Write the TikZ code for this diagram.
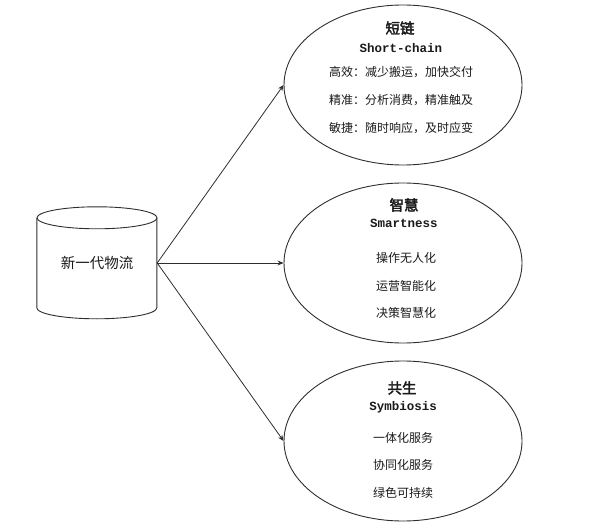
\documentclass[tikz,border=0pt]{standalone}
\usepackage{fontspec}
\usetikzlibrary{shapes.geometric,arrows.meta}
\newfontfamily\cjk[AutoFakeBold=2.5]{Noto Sans CJK SC}
\newfontfamily\monob{Liberation Mono}
\definecolor{linec}{HTML}{2E2E2E}
\definecolor{txt}{HTML}{1A1A1A}
\begin{document}
\begin{tikzpicture}[x=1pt,y=-1pt,
  bubble/.style={ellipse, draw=linec, line width=0.9pt, minimum width=238pt, minimum height=160pt, inner sep=0pt},
  ttl/.style={text=txt, inner sep=0pt, font=\cjk\bfseries\fontsize{14.5}{16}\selectfont},
  eng/.style={text=txt, inner sep=0pt, font=\monob\bfseries\fontsize{12.5}{14}\selectfont},
  item/.style={text=txt, inner sep=0pt, font=\cjk\fontsize{12}{14}\selectfont},
  conn/.style={draw=linec, line width=0.8pt, -{Stealth[length=6pt,width=5pt]}}]
\useasboundingbox (0,0) rectangle (594,529);
% cylinder
\node[minimum width=120pt, minimum height=112pt, inner sep=0pt, text=txt,
  font=\cjk\fontsize{14.5}{16}\selectfont] (db) at (97,263) {新一代物流};
\draw[linec, line width=0.9pt] (db.north west) ++(0,11) -- ++(0,90)
  arc[start angle=180, end angle=360, x radius=60pt, y radius=11pt] -- ++(0,-90);
\draw[linec, line width=0.9pt] (db.north) ++(0,11) ellipse[x radius=60pt, y radius=11pt];
% ellipses
\node[bubble] (e1) at (403,85) {};
\node[bubble] (e2) at (403,263) {};
\node[bubble] (e3) at (403,441) {};
% texts
\node[ttl] (t1) at (400,28) {短链};
\node[eng] (s1) at (401,48) {Short-chain};
\node[item] (a1) at (401,72) {高效：减少搬运，加快交付};
\node[item] (a2) at (401,100) {精准：分析消费，精准触及};
\node[item] (a3) at (401,128) {敏捷：随时响应，及时应变};
\node[ttl] (t2) at (404,205) {智慧};
\node[eng] (s2) at (404,223) {Smartness};
\node[item] (b1) at (406,258) {操作无人化};
\node[item] (b2) at (406,286) {运营智能化};
\node[item] (b3) at (406,313) {决策智慧化};
\node[ttl] (t3) at (402,388) {共生};
\node[eng] (s3) at (403,407) {Symbiosis};
\node[item] (c1) at (403,438) {一体化服务};
\node[item] (c2) at (403,465) {协同化服务};
\node[item] (c3) at (403,493) {绿色可持续};
% connectors
\draw[conn] (db.east) -- (e1.west);
\draw[conn] (db.east) -- (e2.west);
\draw[conn] (db.east) -- (e3.west);
\end{tikzpicture}
\end{document}
